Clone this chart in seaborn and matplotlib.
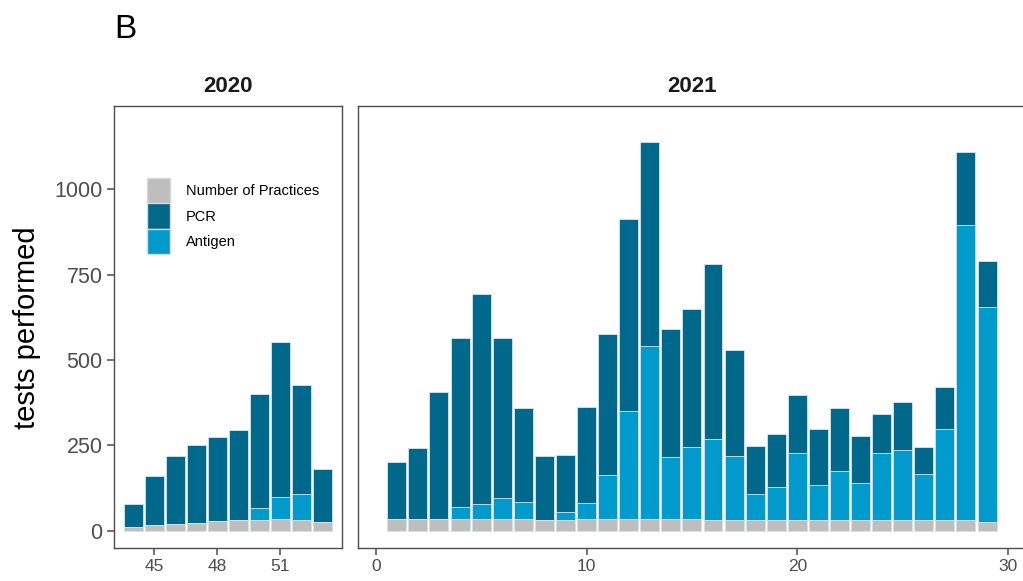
import matplotlib
matplotlib.use("Agg")
import matplotlib.pyplot as plt
from matplotlib.patches import Patch
import numpy as np
import pandas as pd
import seaborn as sns

# Calendar weeks per year
weeks_2020 = [44, 45, 46, 47, 48, 49, 50, 51, 52, 53]
weeks_2021 = list(range(1, 30))

# Number of participating practices per week
practices_2020 = [11, 18, 20, 22, 28, 31, 33, 34, 33, 26]
practices_2021 = [34, 34, 35, 34, 34, 34, 34, 33, 32, 34, 34, 35, 34, 34, 34,
                  33, 33, 33, 32, 31, 31, 32, 31, 31, 31, 31, 32, 31, 27]

# Antigen tests per week
antigen_2020 = [0, 0, 0, 0, 0, 0, 35, 66, 76, 0]
antigen_2021 = [1, 0, 0, 35, 45, 63, 50, 0, 25, 47, 131, 315, 507, 182, 213,
                237, 187, 76, 97, 198, 104, 144, 110, 196, 205, 135, 265, 863, 629]

# PCR tests per week
pcr_2020 = [68, 142, 200, 229, 246, 264, 332, 454, 317, 156]
pcr_2021 = [167, 209, 372, 496, 613, 466, 277, 185, 166, 282, 411, 563, 596, 374, 401,
            512, 310, 139, 155, 169, 163, 184, 138, 116, 140, 81, 123, 213, 133]

labels = ["Number of Practices", "PCR", "Antigen"]
colors = {"Number of Practices": "#BEBEBE", "PCR": "#00688B", "Antigen": "#009ACD"}

sns.set_theme(style="ticks")
plt.rcParams["font.family"] = ["Liberation Sans", "DejaVu Sans"]

W, H = 1023, 581
fig = plt.figure(figsize=(W / 100, H / 100), dpi=100)


def frac_box(x0, y0, x1, y1):
    return [x0 / W, 1 - y1 / H, (x1 - x0) / W, (y1 - y0) / H]


ax_l = fig.add_axes(frac_box(113.5, 106, 342, 548.3))
ax_r = fig.add_axes(frac_box(357.7, 106, 1026.9, 548.3))

edge = "#d3e8ef"


def draw_year(ax, weeks, prac, anti, pcr):
    df = pd.DataFrame({"week": weeks, "practices": prac, "antigen": anti, "pcr": pcr})
    df["top_antigen"] = df["practices"] + df["antigen"]
    df["top_pcr"] = df["top_antigen"] + df["pcr"]
    for col, key in [("top_pcr", "PCR"), ("top_antigen", "Antigen"),
                     ("practices", "Number of Practices")]:
        sns.barplot(data=df, x="week", y=col, native_scale=True, width=0.9,
                    color=colors[key], saturation=1, errorbar=None,
                    edgecolor=edge, linewidth=0.6, ax=ax)
    ax.set_xlabel("")
    ax.set_ylabel("")
    ax.set_ylim(-50.6, 1242.7)


draw_year(ax_l, weeks_2020, practices_2020, antigen_2020, pcr_2020)
draw_year(ax_r, weeks_2021, practices_2021, antigen_2021, pcr_2021)

ax_l.set_xlim(43.05, 53.95)
ax_l.set_xticks([45, 48, 51])
ax_r.set_xlim(-0.855, 30.89)
ax_r.set_xticks([0, 10, 20, 30])

ax_l.set_yticks([0, 250, 500, 750, 1000])
ax_r.set_yticks([])

for ax in (ax_l, ax_r):
    for s in ax.spines.values():
        s.set_visible(True)
        s.set_color("#4d4d4d")
        s.set_linewidth(1.0)
    ax.tick_params(axis="x", length=5, width=1.1, color="#4d4d4d",
                   labelcolor="#4d4d4d", labelsize=12.5, pad=3)
    ax.tick_params(axis="y", length=5, width=1.1, color="#4d4d4d",
                   labelcolor="#4d4d4d", labelsize=15.5, pad=3)
    ax.grid(False)
    ax.set_facecolor("white")

ax_l.set_title("2020", fontsize=16, fontweight="bold", color="#1a1a1a", pad=10)
ax_r.set_title("2021", fontsize=16, fontweight="bold", color="#1a1a1a", pad=10,
               x=(692.3 - 357.7) / (1026.9 - 357.7))

handles = [Patch(facecolor=colors[k], edgecolor="#d9d9d9", linewidth=1.0) for k in labels]
leg = ax_l.legend(handles, labels, loc="upper left",
                  bbox_to_anchor=(147 / W, 1 - 178 / H), bbox_transform=fig.transFigure,
                  frameon=False, fontsize=10.5, handlelength=1.55, handleheight=2.3,
                  labelspacing=0.0, handletextpad=1.1, borderpad=0, borderaxespad=0)
for t in leg.get_texts():
    t.set_color("black")

fig.text(27 / W, 1 - 328 / H, "tests performed", rotation=90, ha="center",
         va="center", fontsize=21, color="black")
fig.text(114 / W, 1 - 38 / H, "B", ha="left", va="baseline", fontsize=24,
         color="black")

fig.savefig("out.png", dpi=100, facecolor="white")
